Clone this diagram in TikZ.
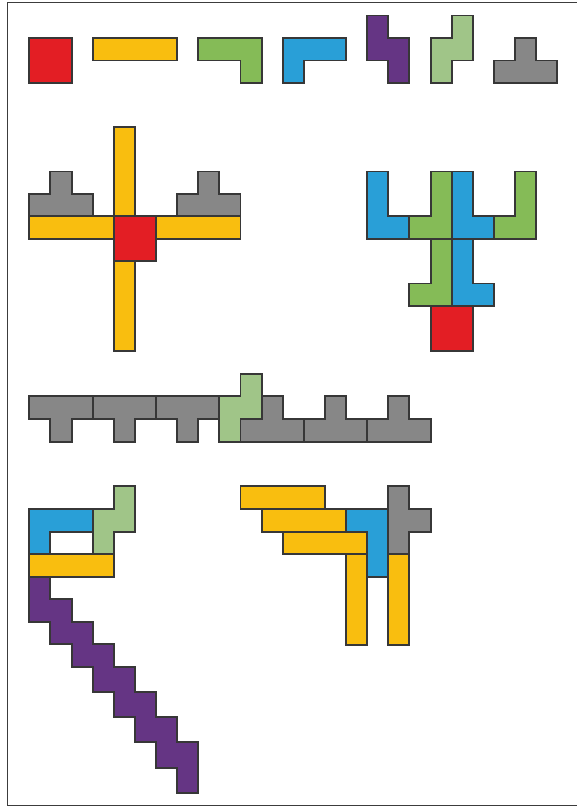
\documentclass[tikz,border=0pt]{standalone}
\definecolor{cred}{RGB}{227,30,36}
\definecolor{cyel}{RGB}{249,190,15}
\definecolor{cgrn}{RGB}{133,187,87}
\definecolor{cblu}{RGB}{41,159,215}
\definecolor{cpur}{RGB}{101,53,132}
\definecolor{clgr}{RGB}{160,197,136}
\definecolor{cgry}{RGB}{135,135,135}
\definecolor{strokec}{RGB}{55,55,55}
\definecolor{framec}{RGB}{60,60,60}
\begin{document}
\begin{tikzpicture}[x=0.75pt,y=-0.75pt,
  declare function={X(\i)=29.3+21.12*\i; T(\k)=15.5+22.5*\k; C(\k)=126.7+22.4*\k; R(\k)=373.8+22.6*\k; B(\k)=486.3+22.7*\k;},
  pc/.style={draw=strokec, line width=1.45pt, line join=miter},
  red/.style={pc, fill=cred}, yel/.style={pc, fill=cyel}, grn/.style={pc, fill=cgrn},
  blu/.style={pc, fill=cblu}, pur/.style={pc, fill=cpur}, lgr/.style={pc, fill=clgr},
  gry/.style={pc, fill=cgry}]
\useasboundingbox (0,0) rectangle (577,808);
% frame
\draw[framec, line width=1.1pt] (580,2.5) -- (7.5,2.5) -- (7.5,805.5) -- (580,805.5);

% ---------- top row ----------
\draw[red] ({X(0)},{T(1)}) rectangle ({X(2)},{T(3)});
\draw[yel] ({X(3)},{T(1)}) rectangle ({X(7)},{T(2)});
\draw[grn] ({X(8)},{T(1)}) -- ({X(11)},{T(1)}) -- ({X(11)},{T(3)}) -- ({X(10)},{T(3)}) -- ({X(10)},{T(2)}) -- ({X(8)},{T(2)}) -- cycle;
\draw[blu] ({X(12)},{T(1)}) -- ({X(15)},{T(1)}) -- ({X(15)},{T(2)}) -- ({X(13)},{T(2)}) -- ({X(13)},{T(3)}) -- ({X(12)},{T(3)}) -- cycle;
\draw[pur] ({X(16)},{T(0)}) -- ({X(17)},{T(0)}) -- ({X(17)},{T(1)}) -- ({X(18)},{T(1)}) -- ({X(18)},{T(3)}) -- ({X(17)},{T(3)}) -- ({X(17)},{T(2)}) -- ({X(16)},{T(2)}) -- cycle;
\draw[lgr] ({X(20)},{T(0)}) -- ({X(21)},{T(0)}) -- ({X(21)},{T(2)}) -- ({X(20)},{T(2)}) -- ({X(20)},{T(3)}) -- ({X(19)},{T(3)}) -- ({X(19)},{T(1)}) -- ({X(20)},{T(1)}) -- cycle;
\draw[gry] ({X(23)},{T(1)}) -- ({X(24)},{T(1)}) -- ({X(24)},{T(2)}) -- ({X(25)},{T(2)}) -- ({X(25)},{T(3)}) -- ({X(22)},{T(3)}) -- ({X(22)},{T(2)}) -- ({X(23)},{T(2)}) -- cycle;

% ---------- cross ----------
\draw[gry] ({X(1)},{C(2)}) -- ({X(2)},{C(2)}) -- ({X(2)},{C(3)}) -- ({X(3)},{C(3)}) -- ({X(3)},{C(4)}) -- ({X(0)},{C(4)}) -- ({X(0)},{C(3)}) -- ({X(1)},{C(3)}) -- cycle;
\draw[gry] ({X(8)},{C(2)}) -- ({X(9)},{C(2)}) -- ({X(9)},{C(3)}) -- ({X(10)},{C(3)}) -- ({X(10)},{C(4)}) -- ({X(7)},{C(4)}) -- ({X(7)},{C(3)}) -- ({X(8)},{C(3)}) -- cycle;
\draw[yel] ({X(0)},{C(4)}) rectangle ({X(4)},{C(5)});
\draw[yel] ({X(6)},{C(4)}) rectangle ({X(10)},{C(5)});
\draw[yel] ({X(4)},{C(0)}) rectangle ({X(5)},{C(4)});
\draw[yel] ({X(4)},{C(6)}) rectangle ({X(5)},{C(10)});
\draw[red] ({X(4)},{C(4)}) rectangle ({X(6)},{C(6)});

% ---------- tree ----------
\draw[blu] ({X(16)},{C(2)}) -- ({X(17)},{C(2)}) -- ({X(17)},{C(4)}) -- ({X(18)},{C(4)}) -- ({X(18)},{C(5)}) -- ({X(16)},{C(5)}) -- cycle;
\draw[grn] ({X(19)},{C(2)}) -- ({X(20)},{C(2)}) -- ({X(20)},{C(5)}) -- ({X(18)},{C(5)}) -- ({X(18)},{C(4)}) -- ({X(19)},{C(4)}) -- cycle;
\draw[blu] ({X(20)},{C(2)}) -- ({X(21)},{C(2)}) -- ({X(21)},{C(4)}) -- ({X(22)},{C(4)}) -- ({X(22)},{C(5)}) -- ({X(20)},{C(5)}) -- cycle;
\draw[grn] ({X(23)},{C(2)}) -- ({X(24)},{C(2)}) -- ({X(24)},{C(5)}) -- ({X(22)},{C(5)}) -- ({X(22)},{C(4)}) -- ({X(23)},{C(4)}) -- cycle;
\draw[grn] ({X(19)},{C(5)}) -- ({X(20)},{C(5)}) -- ({X(20)},{C(8)}) -- ({X(18)},{C(8)}) -- ({X(18)},{C(7)}) -- ({X(19)},{C(7)}) -- cycle;
\draw[blu] ({X(20)},{C(5)}) -- ({X(21)},{C(5)}) -- ({X(21)},{C(7)}) -- ({X(22)},{C(7)}) -- ({X(22)},{C(8)}) -- ({X(20)},{C(8)}) -- cycle;
\draw[red] ({X(19)},{C(8)}) rectangle ({X(21)},{C(10)});

% ---------- row of T pieces ----------
\foreach \s in {0,3,6}{
  \draw[gry] ({X(\s)},{R(1)}) -- ({X(\s+3)},{R(1)}) -- ({X(\s+3)},{R(2)}) -- ({X(\s+2)},{R(2)}) -- ({X(\s+2)},{R(3)}) -- ({X(\s+1)},{R(3)}) -- ({X(\s+1)},{R(2)}) -- ({X(\s)},{R(2)}) -- cycle;
}
\foreach \s in {10,13,16}{
  \draw[gry] ({X(\s+1)},{R(1)}) -- ({X(\s+2)},{R(1)}) -- ({X(\s+2)},{R(2)}) -- ({X(\s+3)},{R(2)}) -- ({X(\s+3)},{R(3)}) -- ({X(\s)},{R(3)}) -- ({X(\s)},{R(2)}) -- ({X(\s+1)},{R(2)}) -- cycle;
}
\draw[lgr] ({X(10)},{R(0)}) -- ({X(11)},{R(0)}) -- ({X(11)},{R(2)}) -- ({X(10)},{R(2)}) -- ({X(10)},{R(3)}) -- ({X(9)},{R(3)}) -- ({X(9)},{R(1)}) -- ({X(10)},{R(1)}) -- cycle;

% ---------- bottom left ----------
\draw[blu] ({X(0)},{B(1)}) -- ({X(3)},{B(1)}) -- ({X(3)},{B(2)}) -- ({X(1)},{B(2)}) -- ({X(1)},{B(3)}) -- ({X(0)},{B(3)}) -- cycle;
\draw[lgr] ({X(4)},{B(0)}) -- ({X(5)},{B(0)}) -- ({X(5)},{B(2)}) -- ({X(4)},{B(2)}) -- ({X(4)},{B(3)}) -- ({X(3)},{B(3)}) -- ({X(3)},{B(1)}) -- ({X(4)},{B(1)}) -- cycle;
\draw[yel] ({X(0)},{B(3)}) rectangle ({X(4)},{B(4)});
\def\pa{576.7}\def\pb{599.3}\def\pc{621.7}\def\pd{644}\def\pe{667}
\def\pf{692}\def\pg{717}\def\ph{742}\def\pi{768}\def\pj{793.3}
\draw[pur] ({X(0)},\pa) -- ({X(1)},\pa) -- ({X(1)},\pb) -- ({X(2)},\pb) -- ({X(2)},\pc) -- ({X(3)},\pc) -- ({X(3)},\pd) -- ({X(4)},\pd) -- ({X(4)},\pe) -- ({X(5)},\pe) -- ({X(5)},\pf) -- ({X(6)},\pf) -- ({X(6)},\pg) -- ({X(7)},\pg) -- ({X(7)},\ph) -- ({X(8)},\ph) -- ({X(8)},\pj) -- ({X(7)},\pj) -- ({X(7)},\pi) -- ({X(6)},\pi) -- ({X(6)},\ph) -- ({X(5)},\ph) -- ({X(5)},\pg) -- ({X(4)},\pg) -- ({X(4)},\pf) -- ({X(3)},\pf) -- ({X(3)},\pe) -- ({X(2)},\pe) -- ({X(2)},\pd) -- ({X(1)},\pd) -- ({X(1)},\pc) -- ({X(0)},\pc) -- cycle;

% ---------- bottom right ----------
\draw[yel] ({X(10)},{B(0)}) rectangle ({X(14)},{B(1)});
\draw[yel] ({X(11)},{B(1)}) rectangle ({X(15)},{B(2)});
\draw[yel] ({X(12)},{B(2)}) rectangle ({X(16)},{B(3)});
\draw[blu] ({X(15)},{B(1)}) -- ({X(17)},{B(1)}) -- ({X(17)},{B(4)}) -- ({X(16)},{B(4)}) -- ({X(16)},{B(2)}) -- ({X(15)},{B(2)}) -- cycle;
\draw[gry] ({X(17)},{B(0)}) -- ({X(18)},{B(0)}) -- ({X(18)},{B(1)}) -- ({X(19)},{B(1)}) -- ({X(19)},{B(2)}) -- ({X(18)},{B(2)}) -- ({X(18)},{B(3)}) -- ({X(17)},{B(3)}) -- cycle;
\draw[yel] ({X(15)},{B(3)}) rectangle ({X(16)},{B(7)});
\draw[yel] ({X(17)},{B(3)}) rectangle ({X(18)},{B(7)});
\end{tikzpicture}
\end{document}
